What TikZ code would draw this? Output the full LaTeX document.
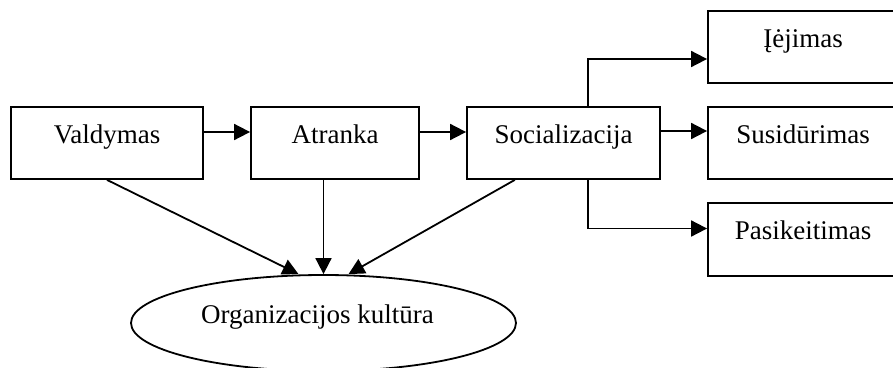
\documentclass[tikz,border=0pt]{standalone}
\usepackage{fontspec}
\setmainfont{Liberation Serif}
\usetikzlibrary{arrows.meta,calc,shapes.geometric}
\begin{document}
\begin{tikzpicture}[x=1pt,y=-1pt,
  box/.style={draw,line width=1.8pt,rectangle,inner sep=0pt,text height=36pt,text depth=36pt,
    font=\fontsize{27}{31}\selectfont},
  oval/.style={draw,line width=1.8pt,ellipse,inner sep=0pt,minimum width=385pt,minimum height=96pt,
    text height=0pt,text depth=0pt,font=\fontsize{27}{31}\selectfont},
  arr/.style={line width=1.8pt,-{Triangle[length=16pt,width=16pt]}}]
\useasboundingbox (0,0) rectangle (893,367);
\clip (0,0) rectangle (893,367);
\node[box,minimum width=192pt] (val) at (107,143) {Valdymas};
\node[box,minimum width=168pt] (atr) at (335,143) {Atranka};
\node[box,minimum width=193pt] (soc) at (563.5,143) {Socializacija};
\node[box,minimum width=190pt] (iej) at (803,47) {Įėjimas};
\node[box,minimum width=190pt] (sus) at (803,143) {Susidūrimas};
\node[box,minimum width=190pt,text depth=37pt] (pas) at (803,239.5) {Pasikeitimas};
\node[oval] (ell) at (323.5,323) {Organizacijos kultūra\hspace*{12pt}};
\coordinate (s1) at ($(soc.north west)!0.627!(soc.north east)$);
\coordinate (s2) at ($(soc.south west)!0.627!(soc.south east)$);
\coordinate (s3) at ($(soc.south west)!0.25!(soc.south east)$);
\draw[arr] ([yshift=11pt]val.east) -- ([yshift=11pt]atr.west);
\draw[arr] ([yshift=11pt]atr.east) -- ([yshift=11pt]soc.west);
\draw[arr] ([yshift=12pt]soc.east) -- ([yshift=12pt]sus.west);
\draw[arr] (s1) |- ([yshift=-12pt]iej.west);
\draw[arr] (s2) |- ([yshift=11pt]pas.west);
\draw[arr] (val.south) -- ([xshift=-25pt]ell.north);
\draw[arr] (ell.north |- atr.south) -- (ell.north);
\draw[arr] (s3) -- ([xshift=25pt]ell.north);
\end{tikzpicture}
\end{document}
